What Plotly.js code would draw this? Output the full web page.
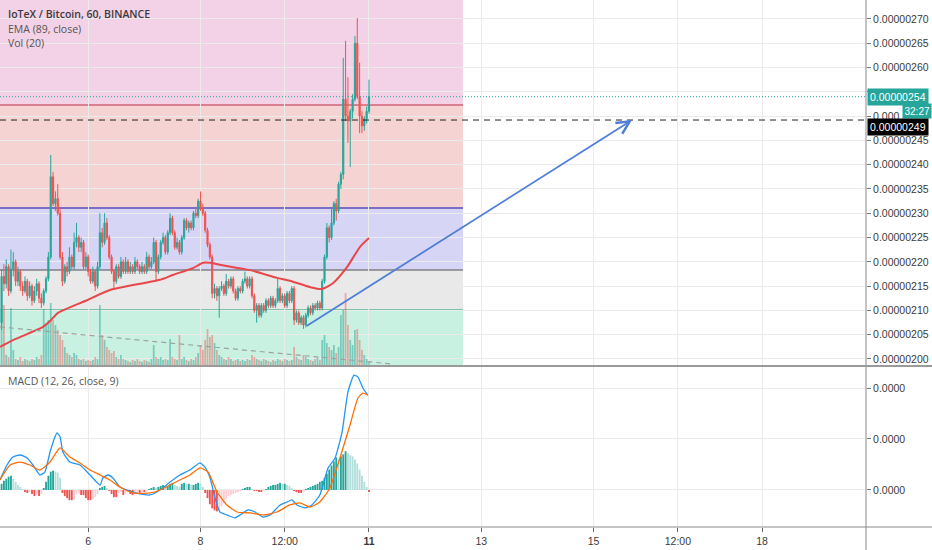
<!DOCTYPE html>
<html>
<head>
<meta charset="utf-8">
<script src="https://cdn.plot.ly/plotly-3.0.1.min.js"></script>
<style>
html,body{margin:0;padding:0;background:#fff;}
#chart{width:932px;height:550px;}
</style>
</head>
<body>
<div id="chart"></div>
<script>
// ---- Data (prices in satoshi, i.e. x 1e-8 BTC) ----
const openP = [207.5,217,215.5,219,214,218.5,220,216,218,215,214,216,213,215,212,214,215.5,212.5,211.5,214,
216.5,221,237.5,232,233,230,221,216,219,218,221,219,224,225,223,224,219,221,218,216,
218,215,219,226,224,228,225,221,218,216,219,217,220,218,220,218,219,218,220,219,
218,219,218,221,219,220,224,218,221,224,225,222,226,229,226,223,224,222,225,228.5,
227,228,227,230,229.5,232.5,231,230,226.5,223.5,221,213.5,214.5,213,214.5,215,213.5,216,215,216.5,
214,212.5,214.5,214,216,216.5,215,216.5,213,210,211,209,211,210,212,211,212.5,211,212,214.5,
212,213,211,213.5,212,214.5,208,209.5,207.5,208.5,207,209,210.5,209.5,211,210.5,211.5,210.5,216,221,
227,225,228,232,230.5,236,238,253.5,250,249,251,253.5,265,254,250,248,249.5,251];
const highP = [218.5,219.5,220.5,219.5,222.5,222,220.5,219,218.5,216,217,216.5,216,215.5,215,216.5,216,213.5,214.5,217,
222,242,238.5,234.5,236,231,222,219.5,220,223,221.5,226,228,225.5,225,224.5,222,221.5,218.5,219,
218.5,220,230,227,230,229,225.5,221.5,218.5,219.5,219.5,221,220.5,221,220.5,220,219.5,221,220.5,219.5,
220,219.5,222,221.5,221,225,224.5,221.5,224.5,226,225.5,226.5,230,229.5,226.5,225,224.5,225.5,229,229,
228.5,228.5,230.5,231,233,234.5,232,230.5,227,224,221.5,215.5,215,215,216,215.5,217.5,216.5,217,217,
214.5,215,215,216.5,218,217,217,217,213.5,211.5,211.5,211.5,211.5,212.5,212.5,213,213,212.5,216.5,215,
213.5,213.5,214,214,215,215,210,210,209,209,209.5,211,211,211.5,211.5,212,212,216.5,221.5,228,
227.5,231,232.5,233,236.5,238.5,262,265.5,258,251.5,254.5,266.5,270.2,261,251,250,252,257.5];
const lowP = [206,214,214.5,213,213.5,217,215,215,214,213,213.5,212,212.5,211,211.5,213,211.5,210.5,211,213.5,
216,220.5,231.5,230.5,229.5,220.5,215,215.5,217,217.5,218.5,218.5,223,222,222,218.5,218.5,217,215.5,215.5,
214,214.5,218.5,223,223.5,224.5,220.5,217.5,214.2,215.5,216.5,216.5,217.5,217.5,217.5,217.5,217.5,217.5,218.5,217.5,
217.5,217.5,217.5,218.5,218.5,219.5,216,217.5,220.5,223.5,221.5,221.5,225.5,225.5,222.5,222.5,221.5,221.5,224.5,226.5,
226,226.5,226.5,229,229,230.5,229.5,226,223,220.5,212.5,212.5,212,208.5,214,213,213,214.5,214.5,213.5,
212,212,213.5,213.5,215.5,214.5,214.5,212.5,209.5,207.5,208.5,208.5,209.5,209.5,210.5,210.5,210.5,210.5,211.5,211.5,
211.5,210.5,210.5,211.5,211.5,207,207.5,207,207,206.2,206.5,208.5,209,209,210,210,210,210,215.5,220.5,
224,224.5,227.5,228.5,230,235,237,249,244.5,239.5,249.5,253,253.5,246.5,246.5,247,248.5,250.5];
const closeP = [217,215.5,219,214,218.5,220,216,218,215,214,216,213,215,212,214,215.5,212.5,211.5,214,216.5,
221,237.5,232,233,230,221,216,219,218,221,219,224,225,223,224,219,221,218,216,218,
215,219,226,224,228,225,221,218,216,219,217,220,218,220,218,219,218,220,219,218,
219,218,221,219,220,224,218,221,224,225,222,226,229,226,223,224,222,225,228.5,227,
228,227,230,229.5,232.5,231,230,226.5,223.5,221,213.5,214.5,213,214.5,215,213.5,216,215,216.5,214,
212.5,214.5,214,216,216.5,215,216.5,213,210,211,209,211,210,212,211,212.5,211,212,214.5,212,
213,211,213.5,212,214.5,208,209.5,207.5,208.5,207,209,210.5,209.5,211,210.5,211.5,210.5,216,221,227,
225,228,232,230.5,236,238,253.5,250,249,251,253.5,265,254,250,248,249.5,251,254];
const volume = [55,60,10,8,57,15,6,5,8,4, 6,5,4,6,5,8,6,10,56,40, 45,62,45,40,35,30,25,18,12,10,
8,12,10,6,5,6,4,5,4,5, 8,6,60,30,25,18,15,12,14,8, 6,10,6,5,4,3,5,4,6,4,
3,5,4,3,6,20,8,6,8,5, 6,5,26,8,6,5,30,6,8,5, 4,6,5,8,12,20,15,25,36,28,
30,22,15,10,8,6,5,8,6,4, 5,6,4,5,4,6,5,10,8,6, 5,4,6,5,4,3,5,4,6,5,
4,6,5,4,5,18,8,6,5,10, 8,6,5,4,6,7,5,25,30,22, 18,15,20,12,18,50,55,72,40,25,
20,35,36,25,15,10,6,3];
// EMA (89) read points: candle index / value
const emaX = [-0.7,4.9,7.9,17.7,20.7,24.1,36.5,46.3,67.7,73.2,81.8,86.1,89.1,93.3,106.2,117.7,123.2,131.8,136.9,141.6,147.6,153.2,157];
const emaV = [202.5,203.9,204.5,206.6,207.8,209.5,212.1,214.2,216.3,217.3,218.7,219.8,219.8,219.4,218.3,216.7,216.1,214.8,214.4,215.6,218.9,223.1,224.9];
// MACD (units of 1e-10)
const macdX = [-0.7,2.3,4.9,7.9,10.9,13.4,16.4,18.5,20.7,22.8,23.7,25,26.2,29.2,33.5,37.8,42.1,43.3,45.5,47.6,50.6,54.9,59.1,63.4,67.7,72,76.2,80.5,84.8,86.9,89.1,91.2,93.3,96.3,99.7,101.9,105.3,108.3,111.7,114.7,119,122,124.1,126.2,129.7,132.6,136,139.5,142.5,145.5,148,150.6,152.3,154.4,156.5];
const macdV = [9.8,24.5,32.3,34.3,31.4,24.5,14.7,17.6,37.2,52,56,52,37.2,27.4,24.5,14.7,4.9,11.8,14.7,11.8,2.9,-1,-3.9,-4.9,0,7.8,14.7,19.6,26.5,22.5,11.8,-7.8,-21.6,-24.5,-27.4,-24.5,-19.6,-21.6,-26.5,-24.5,-14.7,-11.8,-9.8,-14.7,-17.6,-14.7,-4.9,21.6,31.4,56.8,96,112.7,110.7,100,93];
const signalX = [-0.7,3.6,7.9,12.1,16.4,20.7,25,29.2,33.5,37.8,42.1,46.3,50.6,56.2,63.4,67.7,72,76.2,80.5,84.8,88.2,92.1,96.3,100.6,106.2,111.7,117.7,123.2,127.5,131.8,136,140.3,144.6,148.9,152.3,154.4,156.5];
const signalV = [9.8,24.5,27.4,24.5,19.6,27.4,41.2,32.3,26.5,19.6,14.7,9.8,2.9,-2.9,-2.9,0,4.9,9.8,14.7,21.6,17.6,-2,-14.7,-21.6,-22.5,-24.5,-21.6,-14.7,-12.7,-16.7,-11.8,2,31.4,63.7,90.2,95,93];
const hist = [6,9,11,13,14,11,8,5,3,1, -2,-3,-2,-4,-6,-5,-6,-4,2,8, 14,18,19,18,17,12,-3,-6,-8,-10,
-10,-9,-4,-3,-5,-5,-8,-10,-10,-9, -7,-4,2,3,4,2,-1,-4,-7,-7, -3,-2,-5,-4,-2,-4,-5,-4,-3,-3,
-2,-2,-1,1,2,3,2,3,4,5, 4,4,6,7,5,4,3,6,7,6, 6,5,5,6,7,6,3,-3,-8,-14,
-18,-20,-21,-20,-16,-13,-9,-6,-5,-4, -3,-2,-1,1,2,3,3,1,-1,-1, -2,-2,-1,1,3,4,5,5,6,7,
6,6,5,4,2,-1,-2,-3,-3,-2, 1,2,3,4,5,6,8,9,12,16, 20,24,28,32,30,33,35,38,36,34,
33,30,26,20,14,8,3,-2];
// Drawings
const fibLevels = [280, 252.3, 231.1, 218.3, 210.1, 195];
const fibFills = ['#f3d1e6','#f4d3d2','#d7d5f6','#e9e9ea','#c9f1e1'];
const fibLineColors = ['#d97f90','#7e6cc9','#7f7f86','#55b892'];
const fibEnd = 197.2;
const lastPrice = 254;
const hLine = 249.2;
const arrowFrom = [129.7, 206.6];
const arrowTo = [269.4, 249.2];
const volLine = [[-0.7, 206.6],[166, 199.0]];
// Axis ticks
const xTickVals = [37, 85, 121, 157, 205, 253, 289, 325];
const xTickText = ['6','8','12:00','<b>11</b>','13','15','12:00','18'];
const priceTicks = [200,205,210,215,220,225,230,235,240,245,250,255,260,265,270];
// 255 is hidden behind the last-price label, 250 is partly covered (only "0.000" shows)
const priceTickText = priceTicks.map(v => v === 255 ? '' : v === 250 ? '0.000' : (v/1e8).toFixed(8));
const macdTicks = [0, 50, 100];
const macdTickText = ['0.0000','0.0000','0.0000'];

const UP = '#26a69a', DN = '#ef5350';
const idx = closeP.map((_, i) => i);
const yMin = 198.76, yMax = 273.91;
const pxPerUnit = 365 / (yMax - yMin);

const volTrace = {
  type: 'bar', x: idx, y: volume.map(v => v / pxPerUnit), base: yMin,
  marker: {color: closeP.map((c, i) => c >= openP[i] ? 'rgba(38,166,154,0.5)' : 'rgba(239,83,80,0.45)')},
  width: 0.75, xaxis: 'x', yaxis: 'y', hoverinfo: 'skip'
};
const candleTrace = {
  type: 'candlestick', x: idx, open: openP, high: highP, low: lowP, close: closeP,
  increasing: {line: {color: UP, width: 1}, fillcolor: UP},
  decreasing: {line: {color: DN, width: 1}, fillcolor: DN},
  whiskerwidth: 0, xaxis: 'x', yaxis: 'y', hoverinfo: 'skip'
};
const emaTrace = {
  type: 'scatter', mode: 'lines', x: emaX, y: emaV,
  line: {color: '#e8474a', width: 2, shape: 'spline', smoothing: 0.6},
  xaxis: 'x', yaxis: 'y', hoverinfo: 'skip'
};
const histColors = hist.map((h, i) => {
  const p = i > 0 ? hist[i-1] : 0;
  if (h >= 0) return h >= p ? '#26a69a' : '#b2dfdb';
  return h <= p ? '#ef5350' : '#ffcdd2';
});
const histTrace = {
  type: 'bar', x: idx, y: hist, marker: {color: histColors}, width: 0.8,
  xaxis: 'x', yaxis: 'y2', hoverinfo: 'skip'
};
const macdTrace = {
  type: 'scatter', mode: 'lines', x: macdX, y: macdV,
  line: {color: '#2196f3', width: 1.3, shape: 'spline', smoothing: 0.5},
  xaxis: 'x', yaxis: 'y2', hoverinfo: 'skip'
};
const sigTrace = {
  type: 'scatter', mode: 'lines', x: signalX, y: signalV,
  line: {color: '#ff6d00', width: 1.3, shape: 'spline', smoothing: 0.5},
  xaxis: 'x', yaxis: 'y2', hoverinfo: 'skip'
};

const shapes = [];
for (let k = 0; k < fibFills.length; k++) {
  shapes.push({type: 'rect', xref: 'x', yref: 'y', x0: -5, x1: fibEnd,
    y0: fibLevels[k+1], y1: fibLevels[k], fillcolor: fibFills[k], line: {width: 0}, layer: 'below'});
}
for (let k = 0; k < fibLineColors.length; k++) {
  shapes.push({type: 'line', xref: 'x', yref: 'y', x0: -5, x1: fibEnd,
    y0: fibLevels[k+1], y1: fibLevels[k+1], line: {color: fibLineColors[k], width: k < 2 ? 2 : 1.5}, layer: 'below'});
}
shapes.push({type: 'line', xref: 'x', yref: 'y', x0: volLine[0][0], y0: volLine[0][1], x1: volLine[1][0], y1: volLine[1][1],
  line: {color: '#9aa3a0', width: 1.2, dash: '5px,4px'}});
shapes.push({type: 'line', xref: 'paper', yref: 'y', x0: 0, x1: 1, y0: lastPrice, y1: lastPrice,
  line: {color: '#26a69a', width: 1, dash: '1px,2px'}});
shapes.push({type: 'line', xref: 'paper', yref: 'y', x0: 0, x1: 1, y0: hLine, y1: hLine,
  line: {color: '#222', width: 1, dash: '6px,5px'}});
// frame lines
const H = 527;
shapes.push({type: 'line', xref: 'paper', yref: 'paper', x0: 1, x1: 1, y0: -23/H, y1: 1, line: {color: '#8a8a8a', width: 1}});
shapes.push({type: 'line', xref: 'paper', yref: 'paper', x0: 0, x1: 932/866, y0: 0, y1: 0, line: {color: '#8a8a8a', width: 1}});
shapes.push({type: 'line', xref: 'paper', yref: 'paper', x0: 0, x1: 932/866, y0: (H-366)/H, y1: (H-366)/H, line: {color: '#9a9a9a', width: 2}});

const FONT = 'Open Sans, Liberation Sans, sans-serif';
const annotations = [
  {xref: 'paper', yref: 'paper', x: 6/866, y: (H-14)/H, xanchor: 'left', yanchor: 'middle', showarrow: false,
   text: 'IoTeX / Bitcoin, 60, BINANCE', font: {family: FONT, size: 10.5, color: '#3b3b3b', weight: 600}},
  {xref: 'paper', yref: 'paper', x: 6/866, y: (H-29)/H, xanchor: 'left', yanchor: 'middle', showarrow: false,
   text: 'EMA (89, close)', font: {family: FONT, size: 10.5, color: '#555'}},
  {xref: 'paper', yref: 'paper', x: 6/866, y: (H-43)/H, xanchor: 'left', yanchor: 'middle', showarrow: false,
   text: 'Vol (20)', font: {family: FONT, size: 10.5, color: '#555'}},
  {xref: 'paper', yref: 'paper', x: 6/866, y: (H-381)/H, xanchor: 'left', yanchor: 'middle', showarrow: false,
   text: 'MACD (12, 26, close, 9)', font: {family: FONT, size: 10.5, color: '#555'}},
  {xref: 'x', yref: 'y', x: arrowTo[0], y: arrowTo[1], axref: 'x', ayref: 'y', ax: arrowFrom[0], ay: arrowFrom[1],
   showarrow: true, arrowhead: 5, arrowsize: 1.4, arrowwidth: 1.8, arrowcolor: '#4f7fd6', text: ''},
  {xref: 'paper', yref: 'y', x: 1.0012, y: lastPrice, xanchor: 'left', yanchor: 'middle', showarrow: false,
   text: (lastPrice/1e8).toFixed(8), bgcolor: '#26a69a', borderpad: 2,
   font: {family: 'Liberation Sans, sans-serif', size: 10.5, color: '#fff'}},
  {xref: 'paper', yref: 'y', x: (902-866)/866 + 1, y: 251.1, xanchor: 'left', yanchor: 'middle', showarrow: false,
   text: '32:27', bgcolor: '#26a69a', borderpad: 1.5,
   font: {family: 'Liberation Sans, sans-serif', size: 10, color: '#fff'}},
  {xref: 'paper', yref: 'y', x: 1.0012, y: 247.7, xanchor: 'left', yanchor: 'middle', showarrow: false,
   text: (249/1e8).toFixed(8), bgcolor: '#000', borderpad: 2,
   font: {family: 'Liberation Sans, sans-serif', size: 10.5, color: '#fff'}}
];

const tickFont = {family: 'Liberation Sans, sans-serif', size: 10.5, color: '#3a3a3a'};
const layout = {
  width: 932, height: 550,
  margin: {l: 0, r: 66, t: 0, b: 23, pad: 0},
  paper_bgcolor: '#fff', plot_bgcolor: '#fff',
  showlegend: false, barmode: 'overlay', dragmode: false,
  xaxis: {range: [-0.68, 369.4], tickvals: xTickVals, ticktext: xTickText, showgrid: true,
    gridcolor: '#ebebeb', zeroline: false, showline: false, ticks: 'outside', ticklen: 4,
    tickcolor: '#666', tickfont: tickFont, anchor: 'y2', rangeslider: {visible: false}, fixedrange: true},
  yaxis: {domain: [1 - 365/H, 1], range: [yMin, yMax], side: 'right', tickvals: priceTicks,
    ticktext: priceTickText, gridcolor: '#ebebeb', zeroline: false, showline: false,
    ticks: 'outside', ticklen: 4, tickcolor: '#777', tickfont: tickFont, anchor: 'x', fixedrange: true},
  yaxis2: {domain: [0, (H-367)/H], range: [-36.3, 120.6], side: 'right', tickvals: macdTicks,
    ticktext: macdTickText, gridcolor: '#ebebeb', zeroline: false, showline: false,
    ticks: 'outside', ticklen: 4, tickcolor: '#777', tickfont: tickFont, anchor: 'x', fixedrange: true},
  shapes: shapes,
  annotations: annotations
};

Plotly.newPlot('chart', [volTrace, candleTrace, emaTrace, histTrace, macdTrace, sigTrace], layout,
  {displayModeBar: false, staticPlot: true});
</script>
</body>
</html>
